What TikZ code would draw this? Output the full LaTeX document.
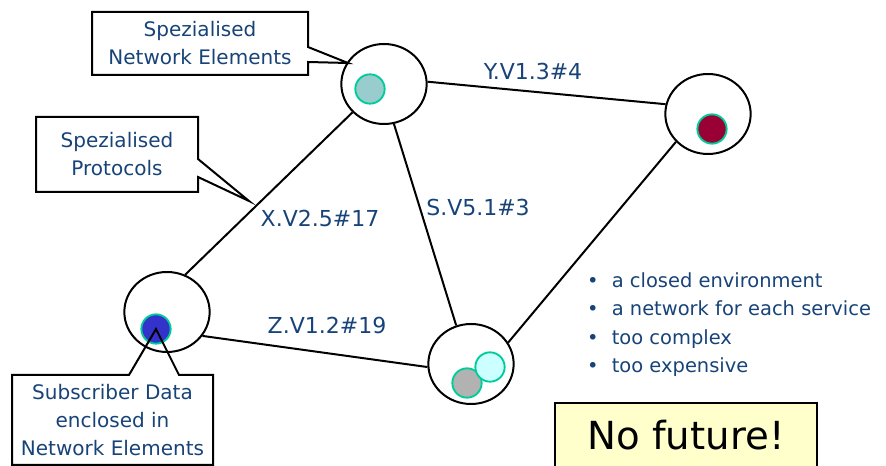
\documentclass[tikz,border=0pt]{standalone}
\usepackage{fontspec}
\setmainfont{DejaVu Sans}
\usetikzlibrary{shapes.geometric,calc}

\definecolor{labelblue}{RGB}{23,67,120}
\definecolor{ringteal}{RGB}{0,204,153}
\definecolor{dataTop}{RGB}{153,204,204}
\definecolor{dataRight}{RGB}{153,0,51}
\definecolor{dataLeft}{RGB}{51,51,204}
\definecolor{dataGrey}{RGB}{178,178,178}
\definecolor{dataCyan}{RGB}{204,255,255}
\definecolor{noteyellow}{RGB}{255,255,204}

\tikzset{every picture/.style={line width=1.5pt}}
\tikzset{
  netelem/.style={draw, ellipse, minimum width=64pt, minimum height=60pt, inner sep=0pt},
  subdata/.style={draw=ringteal, circle, line width=1.4pt, minimum size=22pt, inner sep=0pt},
  proto/.style={text=labelblue, font=\fontsize{16.5}{20}\selectfont},
  calloutbox/.style={text=labelblue, align=center, inner sep=0pt, font=\fontsize{15}{21}\selectfont},
}

\begin{document}
\begin{tikzpicture}[x=0.75pt,y=0.75pt,yscale=-1,xscale=1]
\useasboundingbox (0,0) rectangle (886,466);

%Network elements
\node[netelem] (neTop) at (384,84) {};
\node[netelem] (neRight) at (708,114) {};
\node[netelem] (neLeft) at (167,312) {};
\node[netelem] (neBottom) at (471,364) {};

%Subscriber data inside the elements
\node[subdata, fill=dataTop] (sdTop) at (370,89) {};
\node[subdata, fill=dataRight] (sdRight) at (712,129) {};
\node[subdata, fill=dataLeft] (sdLeft) at (156,329) {};
\node[subdata, fill=dataGrey] (sdGrey) at (467,383) {};
\node[subdata, fill=dataCyan] (sdCyan) at (490,367) {};

%Links
\draw (neTop.3) -- (neRight.167);
\draw (neTop.222) -- (neLeft.64);
\draw (neTop.284) -- (neBottom.111);
\draw (neRight.221) -- (neBottom.30);
\draw (neLeft.-34) -- (neBottom.184);

%Protocol labels
\node[proto] (pY) at (533,71) {Y.V1.3\#4};
\node[proto] (pS) at (478,207) {S.V5.1\#3};
\node[proto] (pX) at (320,218) {X.V2.5\#17};
\node[proto] (pZ) at (327,325) {Z.V1.2\#19};

%Callout: network elements
\node[calloutbox, minimum width=160.5pt, minimum height=45.75pt] (cbElem) at (200,43.5) {Spezialised\\Network Elements};
\coordinate (tipElem) at (348,63);
\draw (cbElem.north west) -- (cbElem.north east) -- ($(cbElem.north east)+(0,35)$) -- (tipElem)
  -- ($(cbElem.north east)+(0,50)$) -- (cbElem.south east) -- (cbElem.south west) -- cycle;

%Callout: protocols
\node[calloutbox, minimum width=120pt, minimum height=54.75pt] (cbProto) at (117,154.5) {Spezialised\\Protocols};
\coordinate (tipProto) at (249,201);
\draw (cbProto.north west) -- (cbProto.north east) -- ($(cbProto.north east)+(0,42)$) -- (tipProto)
  -- ($(cbProto.north east)+(0,60)$) -- (cbProto.south east) -- (cbProto.south west) -- cycle;

%Callout: subscriber data
\node[calloutbox, minimum width=149.25pt, minimum height=66pt] (cbData) at (112.5,420) {Subscriber Data\\enclosed in\\Network Elements};
\draw (cbData.north west) -- ($(cbData.north west)+(117,0)$) -- (sdLeft.center)
  -- ($(cbData.north west)+(167,0)$) -- (cbData.north east) -- (cbData.south east) -- (cbData.south west) -- cycle;

%Drawbacks (base is the last line)
\node[text=labelblue, anchor=base west, align=left, inner sep=0pt, font=\fontsize{14.6}{21.4}\selectfont] (drawbacks) at (586,373)
  {\textbullet\hspace{10pt}a closed environment\\
   \textbullet\hspace{10pt}a network for each service\\
   \textbullet\hspace{10pt}too complex\\
   \textbullet\hspace{10pt}too expensive};

%Verdict
\node[draw, fill=noteyellow, minimum width=196.5pt, minimum height=48pt, font=\fontsize{29}{33}\selectfont] (verdict) at (686,435) {No future!};

\end{tikzpicture}
\end{document}
